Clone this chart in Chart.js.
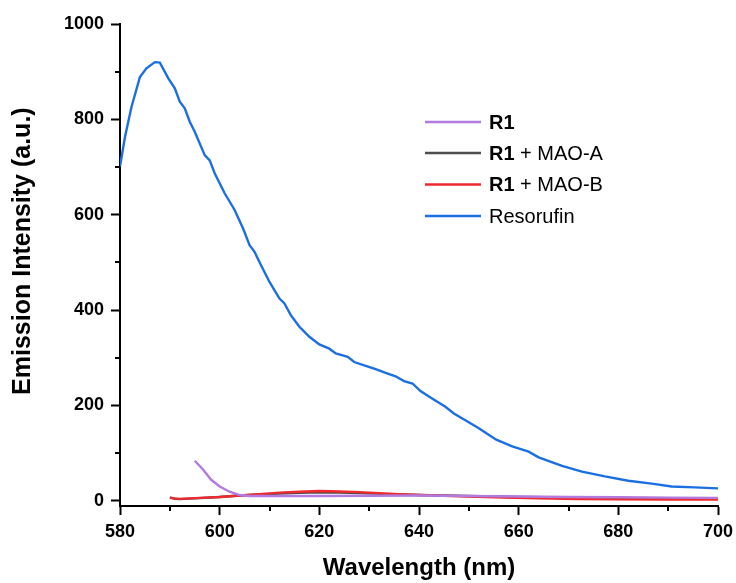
<!DOCTYPE html>
<html lang="en">
  <head>
    <meta charset="utf-8" />
    <title>Emission spectra</title>
    <script src="https://cdn.jsdelivr.net/npm/chart.js@4.4.1/dist/chart.umd.min.js"></script>
    <style>
      body { margin: 0; background: #fff; }
      #wrap { width: 736px; height: 583px; }
    </style>
  </head>
  <body>
    <div id="wrap">
      <canvas id="spectra" width="736" height="583"></canvas>
    </div>
    <script>
      // wavelength (nm) / intensity pairs for each trace
      const r1Nm = [595, 596.7, 598.3, 600, 602, 604, 606, 610, 620, 630, 640, 650, 660, 670, 680, 690, 700];
      const r1Val = [84, 65, 44, 30, 19, 12, 10, 10, 10, 10.5, 11, 10, 9, 8, 7.5, 6.5, 6];

      const maoANm = [590, 591, 592, 596, 600, 604, 608, 612, 616, 620, 624, 628, 632, 636, 640, 650, 660, 670, 680, 690, 700];
      const maoAVal = [7, 4, 3.5, 5.5, 8, 11, 13, 15, 16.5, 17.5, 17, 16, 14.5, 13, 12, 10, 8, 7, 6, 5.5, 5];

      const maoBNm = [590, 592, 596, 600, 604, 608, 612, 616, 620, 624, 628, 632, 636, 640, 645, 650, 657, 664, 672, 680, 690, 700];
      const maoBVal = [6, 4, 6, 8, 11, 14, 17, 19, 20.5, 19.5, 18, 16, 14, 12, 10.5, 9, 6.5, 5, 3.5, 3, 2.5, 2.5];

      const resoNm = [580, 581, 582.3, 584, 585.3, 587, 588, 589.7, 591, 592, 593, 594, 595, 597, 598, 599,
        601, 603, 604.7, 606, 607, 608.3, 610, 612, 613, 614.3, 616, 618, 620, 622, 623.3, 625.7, 627,
        629.3, 631.3, 633.3, 635.3, 637, 638.7, 640.3, 642.7, 645.3, 647, 649.3, 652, 655.5, 658.7, 662,
        664, 668.7, 672.7, 677.3, 682, 686.7, 690.7, 695.3, 700];
      const resoVal = [701, 763, 826, 889, 907, 920, 919, 886, 865, 837, 823, 795, 774, 725, 714, 687,
        645, 610, 571, 536, 522, 494, 459, 424, 414, 389, 365, 344, 328, 319, 309, 302, 291,
        283, 276, 268, 261, 251, 246, 230, 214, 197, 183, 169, 152, 128, 114, 103,
        91, 73, 61, 51, 42, 36, 30, 28, 26];

      const xTicks = [580, 600, 620, 640, 660, 680, 700];
      const xMinor = [590, 610, 630, 650, 670, 690];
      const yTicks = [0, 200, 400, 600, 800, 1000];
      const yMinor = [100, 300, 500, 700, 900];

      // legend: bold prefix + plain rest
      const legendBold = ["R1", "R1", "R1", ""];
      const legendRest = ["", " + MAO-A", " + MAO-B", "Resorufin"];

      const colors = ["#b37ae0", "#4d4d4d", "#ee2a2f", "#1c6fe2"];

      function pts(xs, ys) {
        return xs.map((x, i) => ({ x: x, y: ys[i] }));
      }

      const FONT = "'Liberation Sans', Arial, sans-serif";

      const datasets = [
        { label: "R1", data: pts(r1Nm, r1Val), order: 0 },
        { label: "R1 + MAO-A", data: pts(maoANm, maoAVal), order: 2 },
        { label: "R1 + MAO-B", data: pts(maoBNm, maoBVal), order: 1 },
        { label: "Resorufin", data: pts(resoNm, resoVal), order: 3 },
      ].map((d, i) => Object.assign(d, {
        borderColor: colors[i],
        backgroundColor: colors[i],
        borderWidth: 2.4,
        pointRadius: 0,
        tension: 0,
        fill: false,
      }));

      // minor ticks + legend drawn on top of the chart
      const extras = {
        id: "extras",
        afterDraw(chart) {
          const ctx = chart.ctx;
          const xs = chart.scales.x, ys = chart.scales.y;
          const area = chart.chartArea;
          ctx.save();
          ctx.strokeStyle = "#000";
          ctx.lineWidth = 2;
          ctx.beginPath();
          xMinor.forEach((v) => {
            const px = Math.round(xs.getPixelForValue(v));
            ctx.moveTo(px, area.bottom);
            ctx.lineTo(px, area.bottom + 5);
          });
          yMinor.forEach((v) => {
            const py = Math.round(ys.getPixelForValue(v));
            ctx.moveTo(area.left, py);
            ctx.lineTo(area.left - 5, py);
          });
          ctx.stroke();

          const rowY = [122, 153, 184.5, 216];
          ctx.textBaseline = "middle";
          chart.data.datasets.forEach((d, i) => {
            const y = rowY[i];
            ctx.strokeStyle = d.borderColor;
            ctx.lineWidth = 2.4;
            ctx.beginPath();
            ctx.moveTo(425, y);
            ctx.lineTo(481, y);
            ctx.stroke();
            ctx.fillStyle = "#000";
            let tx = 489;
            if (legendBold[i]) {
              ctx.font = "bold 20px " + FONT;
              ctx.fillText(legendBold[i], tx, y + 1);
              tx += ctx.measureText(legendBold[i]).width;
            }
            ctx.font = "20px " + FONT;
            ctx.fillText(legendRest[i], tx, y + 1);
          });
          ctx.restore();
        },
      };

      new Chart(document.getElementById("spectra"), {
        type: "line",
        data: { datasets: datasets },
        plugins: [extras],
        options: {
          responsive: false,
          animation: false,
          layout: { padding: { top: 24, right: 18, bottom: 0, left: 0 } },
          plugins: { legend: { display: false }, tooltip: { enabled: false } },
          scales: {
            x: {
              type: "linear",
              min: 580,
              max: 700,
              afterBuildTicks: (s) => { s.ticks = xTicks.map((v) => ({ value: v })); },
              afterFit: (s) => { s.height = 77; s.paddingLeft = 0; s.paddingRight = 0; },
              border: { color: "#000", width: 2 },
              grid: { drawOnChartArea: false, tickLength: 9, tickColor: "#000", tickWidth: 2 },
              ticks: {
                color: "#000", padding: 6, maxRotation: 0,
                font: { family: FONT, size: 18, weight: "bold" },
                callback: (v) => String(v),
              },
              title: {
                display: true,
                text: "Wavelength (nm)",
                color: "#000",
                padding: { top: 0, bottom: 0 },
                font: { family: FONT, size: 24, weight: "bold" },
              },
            },
            y: {
              min: -11,
              max: 1000,
              afterBuildTicks: (s) => { s.ticks = yTicks.map((v) => ({ value: v })); },
              afterFit: (s) => { s.width = 120; },
              border: { color: "#000", width: 2 },
              grid: { drawOnChartArea: false, tickLength: 9, tickColor: "#000", tickWidth: 2 },
              ticks: {
                color: "#000", padding: 7,
                font: { family: FONT, size: 18, weight: "bold" },
                callback: (v) => String(v),
              },
              title: {
                display: true,
                text: "    Emission Intensity (a.u.)",
                color: "#000",
                padding: { top: 8, bottom: 0 },
                font: { family: FONT, size: 25, weight: "bold" },
              },
            },
          },
        },
      });
    </script>
  </body>
</html>
